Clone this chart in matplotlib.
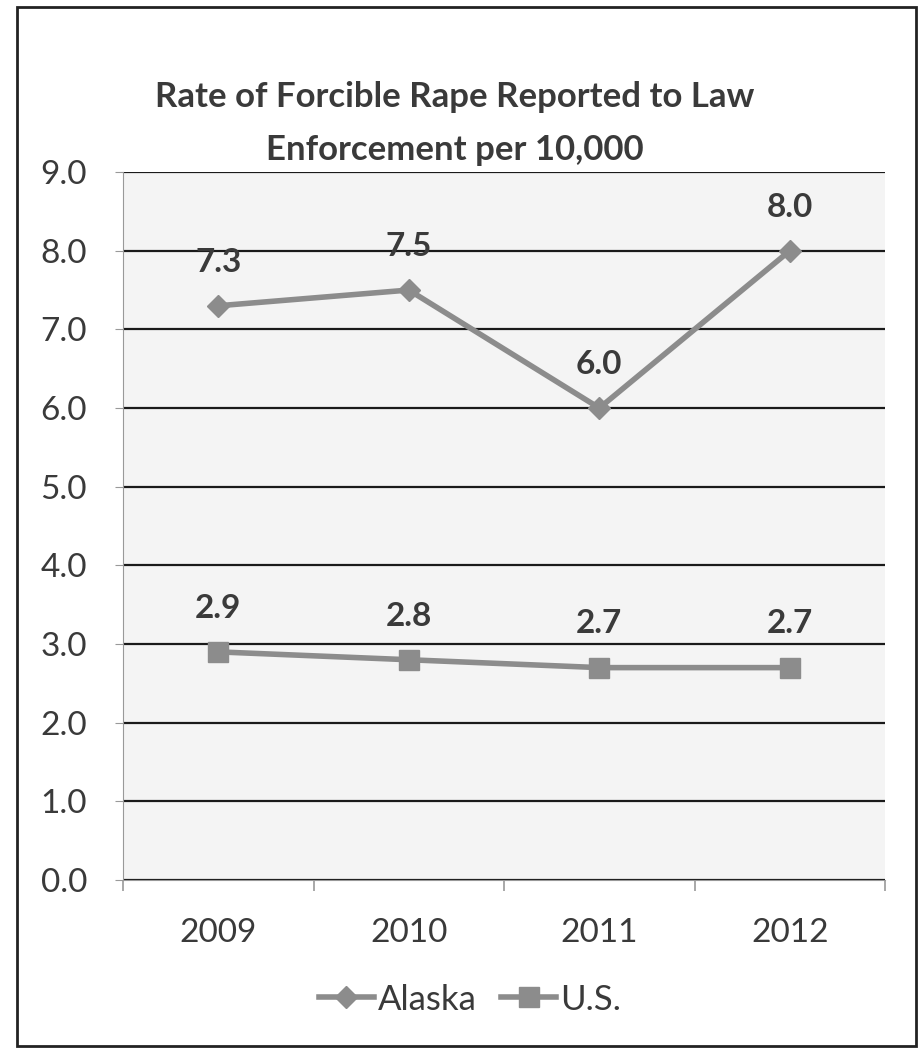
import matplotlib.pyplot as plt
from matplotlib.patches import Rectangle

YEARS = ["2009", "2010", "2011", "2012"]
ALASKA = [7.3, 7.5, 6.0, 8.0]
US = [2.9, 2.8, 2.7, 2.7]
Y_TICKS = [0.0, 1.0, 2.0, 3.0, 4.0, 5.0, 6.0, 7.0, 8.0, 9.0]

TITLE = "Rate of Forcible Rape Reported to Law\nEnforcement per 10,000"
LINE_COLOR = "#8c8c8c"
TEXT_COLOR = "#3a3a3a"

plt.rcParams["font.family"] = ["Lato", "DejaVu Sans"]

fig = plt.figure(figsize=(9.21, 10.51), dpi=100)
ax = fig.add_axes([0.1336, 0.1627, 0.8274, 0.6736])
ax.set_facecolor("#f4f4f4")

x = list(range(len(YEARS)))
ax.plot(x, ALASKA, color=LINE_COLOR, lw=4, marker="D", ms=11,
        label="Alaska", zorder=3)
ax.plot(x, US, color=LINE_COLOR, lw=4, marker="s", ms=15,
        label="U.S.", zorder=3)

# data labels above each point
for series in (ALASKA, US):
    for xi, v in zip(x, series):
        ax.annotate(f"{v:.1f}", (xi, v), xytext=(0, 21), textcoords="offset points",
                    ha="center", va="bottom", fontsize=24, fontweight="bold",
                    color=TEXT_COLOR)

ax.set_xlim(-0.5, len(YEARS) - 0.5)
ax.set_ylim(0, 9)
ax.set_yticks(Y_TICKS)
ax.set_yticklabels([f"{t:.1f}" for t in Y_TICKS])
ax.yaxis.grid(True, color="#1a1a1a", lw=1.6)
ax.set_axisbelow(True)

ax.set_xticks([i - 0.5 for i in range(len(YEARS) + 1)])
ax.set_xticklabels([])
ax.set_xticks(x, minor=True)
ax.set_xticklabels(YEARS, minor=True)
ax.tick_params(axis="x", which="major", length=8, direction="out",
               color="#999999", width=1.2)
ax.tick_params(axis="x", which="minor", length=0, pad=27,
               labelsize=24, labelcolor=TEXT_COLOR)
ax.tick_params(axis="y", length=6, direction="out", color="#999999",
               labelsize=24, labelcolor=TEXT_COLOR, pad=20)

for side in ["top", "right"]:
    ax.spines[side].set_visible(False)
ax.spines["left"].set_color("#999999")
ax.spines["bottom"].set_color("#999999")

fig.text(0.494, 0.8825, TITLE, ha="center", va="center", fontsize=25,
         fontweight="bold", color=TEXT_COLOR, linespacing=1.78)

fig.legend(loc="center", bbox_to_anchor=(0.51, 0.049), ncol=2, frameon=False,
           fontsize=25, handlelength=1.6, handletextpad=0.1, columnspacing=0.7,
           labelcolor=TEXT_COLOR)

fig.patches.append(Rectangle((0.018, 0.005), 0.977, 0.988,
                             transform=fig.transFigure, fill=False,
                             edgecolor="#222222", lw=2))

fig.savefig("out.png", dpi=100)
